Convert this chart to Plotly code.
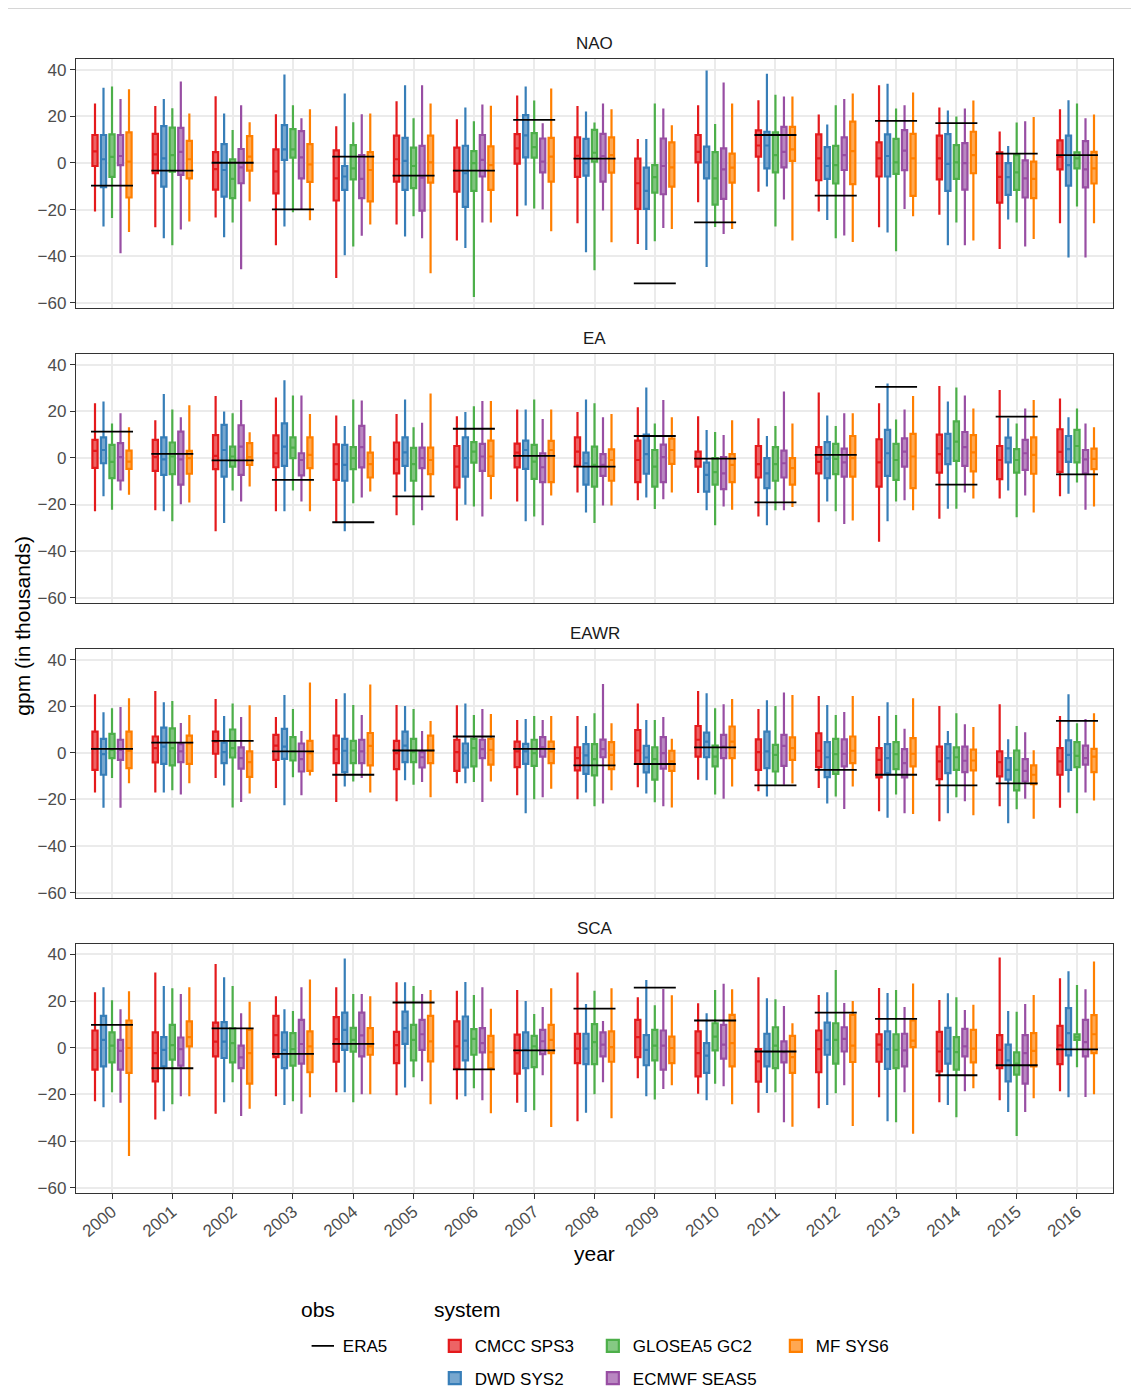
import plotly.graph_objects as go
from plotly.subplots import make_subplots

years = list(range(2000, 2017))
facets = ["NAO", "EA", "EAWR", "SCA"]
systems = ["CMCC SPS3", "DWD SYS2", "GLOSEA5 GC2", "ECMWF SEAS5", "MF SYS6"]
colors = ["#E41A1C", "#377EB8", "#4DAF4A", "#984EA3", "#FF7F00"]
fills = ["rgba(228,26,28,0.68)", "rgba(55,126,184,0.68)", "rgba(77,175,74,0.68)",
         "rgba(152,78,163,0.68)", "rgba(255,127,0,0.68)"]

# each entry: (lower whisker, q1, median, q3, upper whisker), one per year 2000..2016
NAO_CMCC = [(-20.8,-1.3,5.0,12.0,25.5),(-27.6,-4.4,3.7,12.5,24.4),(-23.4,-11.4,-2.6,4.7,28.6),(-35.3,-13.0,-3.6,5.8,20.9),(-49.3,-16.1,-6.6,5.4,15.8),(-26.4,-8.0,1.6,11.7,26.5),(-33.2,-12.3,-3.4,6.6,18.8),(-22.9,-0.3,6.3,12.4,28.9),(-25.9,-6.0,3.1,11.0,24.4),(-34.8,-19.7,-8.7,1.9,10.3),(-16.8,0.3,4.8,12.0,24.8),(-12.3,2.7,7.5,14.0,26.9),(-20.8,-7.4,2.0,12.3,20.8),(-27.6,-5.8,2.0,8.8,33.3),(-22.2,-7.0,2.0,11.7,23.8),(-36.9,-17.0,-6.0,4.6,13.5),(-25.9,-2.7,2.7,9.7,23.1)]
NAO_DWD = [(-27.2,-10.4,1.6,12.0,32.3),(-32.3,-10.1,2.0,15.8,27.4),(-31.9,-14.4,-3.0,8.1,21.2),(-27.2,1.3,5.8,16.2,38.0),(-39.6,-11.5,-5.8,-1.3,29.8),(-31.5,-11.5,0.9,10.8,33.3),(-36.5,-18.8,-4.4,7.4,23.8),(-18.2,2.4,11.8,20.5,32.8),(-38.3,-5.4,-0.1,10.3,22.1),(-37.3,-19.7,-12.0,-2.0,10.3),(-44.6,-6.6,0.3,7.0,39.7),(-10.1,-2.3,7.5,13.4,38.3),(-24.5,-6.8,-1.3,6.8,16.5),(-29.8,-5.8,3.0,12.3,34.0),(-35.3,-12.0,-0.4,12.4,22.5),(-24.2,-13.7,-6.1,-0.1,7.3),(-40.5,-9.7,-0.9,11.7,26.9)]
NAO_GLOSEA = [(-23.6,-6.0,2.6,12.3,32.8),(-35.3,-3.7,3.4,15.2,23.5),(-25.5,-15.1,-6.8,1.6,14.1),(-21.1,2.3,5.8,14.5,24.8),(-35.8,-7.0,-2.3,7.7,17.5),(-22.9,-10.8,-1.3,6.6,19.2),(-57.5,-12.0,-0.1,5.1,17.9),(-19.5,2.3,6.8,12.8,26.8),(-46.0,0.6,4.4,14.2,17.4),(-33.6,-12.7,-6.1,-0.9,25.5),(-27.5,-17.9,-6.6,4.7,16.7),(-27.2,-4.0,3.4,13.1,29.3),(-32.3,-8.8,-0.9,7.3,24.8),(-37.9,-4.7,0.3,10.3,23.4),(-25.5,-6.8,0.3,7.7,19.9),(-25.5,-11.5,-4.0,3.4,17.4),(-18.7,-2.3,2.0,4.6,25.5)]
NAO_ECMWF = [(-38.7,-0.9,3.0,12.0,27.4),(-28.5,-5.1,4.8,15.1,35.0),(-45.6,-8.7,-1.9,6.0,24.8),(-19.7,-6.6,2.4,13.7,19.2),(-31.2,-15.1,-6.8,3.4,20.9),(-32.3,-20.4,-6.3,7.3,33.3),(-25.5,-5.8,1.3,12.0,25.1),(-19.9,-4.0,0.6,10.5,17.0),(-20.4,-8.0,3.0,12.5,25.5),(-27.9,-13.4,-1.3,10.5,23.4),(-30.5,-15.4,-2.7,6.3,34.5),(-15.7,-1.9,4.8,15.5,28.5),(-31.1,-3.0,3.4,11.0,27.4),(-19.7,-3.1,5.3,14.1,24.8),(-35.3,-11.4,-0.1,8.5,23.4),(-35.8,-14.8,-6.6,1.1,17.9),(-40.5,-10.5,-2.7,9.4,19.2)]
NAO_MF = [(-29.6,-14.8,0.6,13.1,31.6),(-25.1,-6.6,1.6,9.5,21.2),(-16.5,-3.3,2.7,11.5,17.5),(-24.6,-8.1,-0.6,8.1,23.1),(-26.4,-16.5,-3.0,4.7,21.2),(-47.3,-8.4,0.3,11.7,25.5),(-25.5,-11.5,-0.9,7.1,24.6),(-29.3,-8.0,2.7,10.8,31.9),(-34.0,-4.1,3.4,11.0,23.1),(-28.3,-10.1,-1.9,8.8,16.2),(-28.3,-8.4,-2.0,4.0,25.5),(-33.2,0.9,5.8,15.5,28.5),(-33.9,-9.1,5.1,17.7,29.8),(-22.9,-14.1,2.0,12.5,30.2),(-33.2,-4.4,3.4,13.4,26.8),(-32.6,-15.1,-6.8,0.6,19.7),(-25.9,-8.8,-2.3,4.8,20.8)]
NAO_ERA5 = [-9.7,-3.3,0.1,-19.9,2.7,-5.4,-3.3,18.5,1.9,-51.6,-25.5,12.0,-14.0,18.1,17.1,4.0,3.4]

EA_CMCC = [(-22.9,-4.3,3.0,7.7,23.4),(-22.5,-5.6,0.3,7.7,16.2),(-31.5,-4.8,0.9,9.8,26.5),(-22.9,-4.0,2.0,9.7,25.9),(-27.6,-9.4,-2.7,5.8,18.2),(-24.6,-6.6,-0.6,6.6,18.8),(-26.8,-12.7,-3.7,5.1,17.9),(-18.7,-4.1,2.3,6.1,20.8),(-14.8,-3.3,2.7,8.8,19.7),(-18.2,-10.4,-0.9,7.4,21.7),(-15.1,-3.7,-0.3,2.7,17.9),(-25.1,-8.4,-2.7,5.1,17.0),(-27.6,-6.6,-1.7,4.6,28.1),(-36.0,-12.3,-1.9,8.0,23.4),(-26.1,-6.3,1.6,10.0,30.8),(-17.4,-9.1,-0.9,5.1,29.1),(-16.5,-6.0,2.6,12.3,25.5)]
EA_DWD = [(-16.5,-2.3,3.4,8.8,24.2),(-22.9,-7.3,-0.6,8.8,27.4),(-27.9,-8.0,3.4,14.2,19.9),(-22.9,-3.4,4.8,14.8,33.3),(-31.5,-9.8,-3.0,5.6,13.7),(-14.4,-3.4,2.4,8.8,25.1),(-20.1,-8.0,-0.1,8.8,19.7),(-27.2,-4.7,3.4,7.4,20.8),(-23.4,-11.5,-2.3,2.3,25.1),(-17.0,-6.8,1.6,10.0,30.2),(-22.5,-14.5,-7.3,-2.0,12.0),(-28.9,-13.0,-6.6,-0.1,9.4),(-18.7,-8.7,-0.3,6.8,18.2),(-27.2,-7.7,2.0,12.0,31.9),(-21.8,-2.7,4.1,10.3,24.2),(-14.0,-1.9,4.1,8.7,17.0),(-15.4,-1.7,3.8,9.4,17.4)]
EA_GLOSEA = [(-22.2,-8.7,-1.7,5.6,14.8),(-27.2,-7.0,0.6,6.6,20.8),(-14.0,-3.7,0.6,4.8,19.1),(-14.0,-0.1,4.4,8.8,26.8),(-19.5,-4.8,-0.1,4.6,25.1),(-28.9,-9.8,-2.7,4.3,13.1),(-20.8,-2.0,2.7,6.8,22.2),(-25.1,-9.0,-1.6,5.6,25.1),(-27.9,-12.3,-3.0,4.8,23.4),(-21.9,-12.3,-3.7,3.4,14.8),(-28.9,-11.5,-6.1,-0.1,11.1),(-22.5,-9.8,-2.7,4.6,13.7),(-22.9,-7.0,-0.4,6.0,13.7),(-18.7,-9.4,-0.9,6.0,16.5),(-21.8,-1.3,7.0,15.7,30.2),(-25.5,-6.3,-0.9,3.8,14.8),(-10.5,-1.9,5.1,12.0,21.2)]
EA_ECMWF = [(-14.0,-9.7,0.3,6.3,19.1),(-19.9,-11.5,-0.6,11.3,17.4),(-18.7,-7.3,4.8,14.0,24.8),(-18.7,-7.5,-0.9,2.0,26.8),(-17.0,-4.1,4.6,13.7,24.6),(-22.5,-4.4,-0.1,4.4,15.1),(-25.1,-5.6,0.6,6.0,24.4),(-28.9,-10.4,-4.0,2.0,16.7),(-20.4,-7.7,-3.0,1.6,17.4),(-17.7,-10.4,0.3,5.7,24.8),(-20.8,-13.4,-6.6,0.3,9.8),(-22.5,-8.4,-2.3,3.1,28.5),(-28.3,-8.0,-1.9,4.0,19.1),(-18.2,-3.7,2.7,8.4,20.8),(-14.8,-3.4,4.6,11.1,26.8),(-16.1,-5.1,2.0,7.7,21.2),(-22.2,-6.6,-0.6,3.4,14.8)]
EA_MF = [(-15.8,-4.7,-1.6,3.1,13.1),(-19.1,-6.8,-0.1,3.0,22.6),(-12.3,-3.0,0.3,6.3,11.0),(-22.9,-4.4,1.3,8.8,18.8),(-14.4,-8.4,-2.7,2.3,9.4),(-16.5,-7.0,-0.9,4.4,27.6),(-17.7,-7.7,0.6,7.4,24.4),(-16.1,-10.4,3.4,7.3,20.8),(-20.4,-9.8,-0.9,3.7,18.8),(-14.8,-2.6,3.4,8.3,17.4),(-22.2,-10.4,-3.0,1.6,16.2),(-21.1,-11.5,-4.4,-0.1,14.8),(-26.8,-8.0,-0.1,9.4,19.1),(-22.5,-13.0,0.6,10.3,26.5),(-17.4,-5.8,2.4,9.8,21.2),(-23.4,-6.8,1.3,8.8,24.8),(-20.8,-4.8,-0.4,4.0,13.1)]
EA_ERA5 = [11.3,1.7,-1.1,-9.4,-27.6,-16.5,12.5,0.9,-3.7,9.4,-0.3,-19.1,1.3,30.5,-11.5,17.7,-7.1]

EAWR_CMCC = [(-17.0,-7.3,1.7,9.1,25.1),(-17.0,-4.1,2.0,7.0,26.5),(-10.8,-0.4,4.8,9.1,23.1),(-15.1,-3.0,3.1,7.7,15.4),(-21.1,-4.4,1.6,7.4,23.1),(-20.8,-7.0,-0.1,5.1,20.5),(-13.1,-7.7,0.3,5.6,20.4),(-18.2,-6.1,0.6,4.8,14.1),(-19.9,-7.5,-2.3,2.4,15.8),(-14.8,-4.8,1.0,9.8,21.2),(-11.5,-1.6,5.6,11.5,26.5),(-16.5,-7.3,0.3,5.8,18.8),(-15.1,-6.1,0.9,8.4,24.4),(-25.1,-10.5,-3.0,2.0,15.8),(-29.3,-11.3,-3.7,2.7,20.1),(-22.9,-10.1,-4.0,0.6,20.8),(-23.6,-9.4,-3.7,2.0,15.8)]
EAWR_DWD = [(-23.6,-9.4,-0.6,6.0,17.4),(-17.0,-4.7,2.7,10.8,21.7),(-14.0,-4.4,0.3,4.4,15.8),(-22.5,-2.6,2.7,10.3,24.8),(-14.4,-8.3,0.9,6.0,25.5),(-11.8,-4.0,3.1,9.1,20.1),(-13.1,-6.3,-0.1,4.0,21.2),(-25.9,-4.7,0.6,3.8,14.5),(-17.0,-9.0,-1.1,3.7,11.5),(-17.4,-8.4,-2.0,3.0,14.1),(-11.8,-1.9,4.8,8.7,25.5),(-18.7,-6.6,0.6,9.1,22.6),(-21.7,-10.4,-1.9,4.6,20.5),(-27.9,-8.7,-2.3,3.7,21.7),(-25.9,-8.7,-2.3,3.7,9.4),(-30.2,-11.5,-7.3,-2.3,5.8),(-17.0,-7.3,-0.9,5.3,25.1)]
EAWR_GLOSEA = [(-10.8,-2.3,1.3,8.1,19.1),(-16.1,-5.4,2.0,10.5,22.2),(-23.4,-2.0,2.0,10.0,21.2),(-10.5,-3.3,0.6,6.7,18.8),(-12.3,-4.4,1.0,5.1,20.5),(-13.7,-4.0,0.3,6.0,18.8),(-12.5,-5.8,2.0,6.0,16.2),(-19.9,-5.6,-0.1,5.6,15.8),(-22.9,-9.7,-2.7,3.7,17.0),(-21.2,-11.5,-2.7,2.4,14.1),(-17.9,-5.8,-1.6,3.1,19.1),(-13.7,-8.0,-0.9,3.4,20.1),(-18.7,-9.0,-0.6,6.0,16.2),(-17.9,-7.0,-0.6,4.6,16.2),(-19.1,-7.3,-1.9,2.3,17.0),(-24.2,-16.1,-7.3,1.0,11.5),(-25.9,-6.1,-1.3,4.6,12.7)]
EAWR_ECMWF = [(-23.6,-3.0,1.3,5.6,19.7),(-17.9,-4.0,0.6,3.7,12.8),(-21.1,-6.8,-2.3,2.3,15.4),(-18.2,-8.0,-2.7,4.0,9.4),(-10.8,-4.4,0.6,5.6,16.2),(-12.5,-6.3,-1.9,0.3,9.4),(-21.1,-2.3,1.6,5.6,18.8),(-19.1,-1.6,2.3,6.7,14.1),(-21.7,-1.9,1.6,5.7,29.5),(-22.9,-6.8,-0.1,6.7,15.4),(-19.7,-2.3,2.7,7.7,20.8),(-13.7,-5.6,3.0,7.7,25.9),(-24.1,-5.8,-0.4,5.8,17.5),(-25.9,-10.5,-4.4,1.6,10.3),(-20.8,-8.3,-3.4,2.7,12.3),(-19.7,-12.3,-7.7,-2.7,8.8),(-17.0,-5.1,-2.3,3.1,14.5)]
EAWR_MF = [(-13.0,-6.6,0.9,9.1,23.4),(-13.0,-4.7,4.0,7.4,16.2),(-17.4,-10.3,-4.0,0.6,20.4),(-9.7,-7.7,-0.1,5.1,30.2),(-17.0,-5.4,3.0,8.5,29.3),(-19.1,-4.4,0.9,7.4,13.7),(-12.3,-5.1,1.3,6.0,16.7),(-15.4,-4.4,0.6,4.8,15.8),(-16.1,-7.0,-0.9,4.6,12.7),(-23.4,-7.7,-3.7,0.9,6.0),(-14.4,-2.3,4.8,11.3,23.1),(-13.2,-3.0,2.0,6.6,24.8),(-14.4,-4.4,0.9,7.0,24.4),(-26.2,-5.8,-0.4,6.3,23.4),(-26.8,-7.5,-3.3,1.4,11.1),(-28.3,-13.4,-9.4,-5.4,1.1),(-20.4,-8.3,-1.6,1.7,17.0)]
EAWR_ERA5 = [1.7,4.4,5.1,0.6,-9.4,1.0,7.0,1.7,-5.4,-4.8,2.3,-14.0,-7.3,-9.4,-14.0,-13.1,13.7]

SCA_CMCC = [(-22.9,-9.4,-0.9,7.4,23.8),(-30.8,-14.4,-2.3,6.6,32.3),(-28.3,-3.7,2.6,10.8,35.9),(-20.8,-4.0,5.4,13.7,22.1),(-19.1,-6.0,3.7,13.1,25.9),(-20.4,-6.6,1.1,6.8,28.1),(-22.2,-9.1,0.6,11.3,24.4),(-23.6,-11.1,-2.3,5.6,24.8),(-31.5,-6.6,-0.4,6.0,32.3),(-13.1,-4.0,4.6,12.0,21.7),(-19.7,-12.3,-2.3,7.0,19.1),(-27.9,-14.5,-5.8,-0.6,30.2),(-25.9,-10.5,-0.6,7.4,22.6),(-21.2,-6.0,1.3,5.8,25.6),(-23.4,-10.1,-1.6,6.8,20.5),(-22.5,-8.8,-0.9,5.4,38.7),(-18.7,-7.0,1.0,9.4,29.8)]
SCA_DWD = [(-25.5,-8.0,3.4,13.7,25.9),(-27.2,-8.0,-0.9,4.6,26.5),(-23.4,-4.4,2.6,11.0,30.2),(-24.6,-8.7,-0.9,6.6,16.5),(-19.1,-0.9,7.7,15.1,38.3),(-17.0,1.7,8.4,15.5,28.1),(-20.8,-5.4,3.1,13.4,28.2),(-27.6,-8.7,-0.9,6.6,20.1),(-27.9,-7.0,-0.4,6.0,18.8),(-20.8,-7.5,-0.9,5.4,29.1),(-22.5,-10.8,-3.4,2.0,14.8),(-19.4,-8.0,-1.7,6.0,21.2),(-24.6,-3.0,3.4,10.8,23.8),(-31.5,-9.1,-0.6,7.0,23.5),(-24.6,-6.8,-0.4,8.5,23.4),(-27.6,-14.4,-5.4,1.3,15.8),(-21.2,-3.3,6.3,17.0,32.8)]
SCA_GLOSEA = [(-19.1,-6.3,0.9,6.6,20.4),(-24.2,-5.1,1.1,9.8,25.5),(-14.8,-6.3,2.0,8.3,26.5),(-22.9,-7.7,-0.6,6.3,15.8),(-23.4,-1.7,3.4,8.5,23.1),(-12.7,-5.4,3.4,9.8,26.5),(-17.4,-3.0,3.8,8.0,22.6),(-26.8,-8.3,0.6,5.1,14.5),(-19.9,-7.0,2.4,10.1,24.4),(-22.2,-5.4,0.9,7.7,18.2),(-15.4,-1.1,4.8,10.5,24.8),(-19.1,-8.7,0.9,8.8,20.8),(-19.5,-6.8,3.4,10.5,33.3),(-31.9,-8.7,-0.9,5.8,24.8),(-29.8,-9.4,-1.9,4.6,21.7),(-37.9,-11.5,-6.8,-2.0,15.4),(-8.4,3.4,4.6,5.8,26.9)]
SCA_ECMWF = [(-23.6,-9.4,-1.3,3.4,16.5),(-20.8,-7.7,-0.6,4.4,23.1),(-29.3,-8.7,-4.1,0.9,14.8),(-28.3,-6.8,1.6,12.0,25.9),(-19.9,-3.7,5.3,15.1,23.1),(-14.4,-0.9,5.8,12.0,23.1),(-22.5,-2.0,2.0,8.4,25.9),(-11.8,-2.7,2.8,7.7,17.5),(-14.8,-3.7,1.3,6.6,11.5),(-17.7,-9.4,0.9,7.4,25.2),(-16.5,-4.7,1.3,9.8,27.4),(-31.9,-6.3,-1.9,2.7,17.9),(-16.1,-1.6,3.8,8.8,19.2),(-19.1,-8.0,-1.1,6.0,17.5),(-18.7,-3.7,0.6,8.1,16.2),(-27.6,-15.4,-2.3,5.4,18.8),(-21.1,-3.7,2.4,12.0,25.1)]
SCA_MF = [(-46.4,-10.8,-0.1,11.7,24.2),(-20.8,0.6,4.6,11.3,25.9),(-26.2,-15.4,-2.3,7.7,19.7),(-21.2,-10.5,0.6,7.0,29.3),(-19.9,-3.0,0.6,8.4,22.1),(-24.2,-5.8,2.7,13.7,24.8),(-28.1,-8.7,-1.9,5.1,16.7),(-34.0,-2.3,3.4,9.8,25.5),(-30.2,-6.0,0.3,7.0,25.5),(-16.1,-6.6,-0.1,4.8,22.5),(-24.2,-8.0,2.0,14.1,25.1),(-33.9,-10.8,-4.0,5.1,10.5),(-33.6,-6.1,0.9,14.1,20.1),(-36.9,0.3,3.1,11.7,27.6),(-17.4,-6.3,-0.4,7.7,18.4),(-21.7,-8.0,-1.3,6.3,22.6),(-19.9,-2.3,5.8,14.0,37.0)]
SCA_ERA5 = [9.8,-8.8,8.3,-2.6,1.7,19.4,-9.3,-1.1,16.8,25.8,11.7,-1.6,15.1,12.4,-11.8,-7.5,-0.7]

ENSEMBLES = {
    "NAO": [NAO_CMCC, NAO_DWD, NAO_GLOSEA, NAO_ECMWF, NAO_MF],
    "EA": [EA_CMCC, EA_DWD, EA_GLOSEA, EA_ECMWF, EA_MF],
    "EAWR": [EAWR_CMCC, EAWR_DWD, EAWR_GLOSEA, EAWR_ECMWF, EAWR_MF],
    "SCA": [SCA_CMCC, SCA_DWD, SCA_GLOSEA, SCA_ECMWF, SCA_MF],
}
OBS = {"NAO": NAO_ERA5, "EA": EA_ERA5, "EAWR": EAWR_ERA5, "SCA": SCA_ERA5}

# ---- styling / layout ----
FONT = "Liberation Sans, Arial, sans-serif"
DODGE = [-0.282, -0.141, 0.0, 0.141, 0.282]
BOXW = 0.086
SYS_LEGEND = ["legend2", "legend2", "legend3", "legend3", "legend4"]
YR = [-62.3, 44.6]
XR = [1999.403, 2016.597]

fig = make_subplots(rows=4, cols=1, vertical_spacing=45.7 / 1134.3)

for r, fac in enumerate(facets, start=1):
    for k, sysname in enumerate(systems):
        stats = ENSEMBLES[fac][k]
        fig.add_trace(go.Box(
            x=[yr + DODGE[k] for yr in years],
            lowerfence=[s[0] for s in stats],
            q1=[s[1] for s in stats],
            median=[s[2] for s in stats],
            q3=[s[3] for s in stats],
            upperfence=[s[4] for s in stats],
            name=sysname, legendgroup=sysname, showlegend=(r == 1),
            legend=SYS_LEGEND[k],
            line=dict(color=colors[k], width=2.2),
            fillcolor=fills[k], marker=dict(color=colors[k]),
            width=BOXW, whiskerwidth=0, boxpoints=False, hoverinfo="skip",
        ), row=r, col=1)
    fig.add_trace(go.Scatter(
        x=years, y=OBS[fac], mode="markers", name="ERA5", legendgroup="ERA5",
        showlegend=(r == 1), legend="legend",
        marker=dict(symbol="line-ew", size=30, color="black",
                    line=dict(color="black", width=1.8)),
        hoverinfo="skip",
    ), row=r, col=1)

axis_common = dict(showgrid=True, gridcolor="#EBEBEB", gridwidth=1.8, zeroline=False,
                   showline=True, mirror=True, linecolor="#333333", linewidth=1.3,
                   tickfont=dict(family=FONT, size=17, color="#4D4D4D"))
for r in range(1, 5):
    fig.update_xaxes(range=XR, tickvals=years, ticktext=[str(y) for y in years],
                     showticklabels=(r == 4), ticks=("outside" if r == 4 else ""),
                     ticklen=5, tickwidth=1.1, tickcolor="#333333", tickangle=-40,
                     ticklabelstandoff=-4,
                     row=r, col=1, **axis_common)
    fig.update_yaxes(range=YR, tickvals=[-60, -40, -20, 0, 20, 40],
                     ticks="outside", ticklen=5, tickwidth=1.1, tickcolor="#333333",
                     row=r, col=1, **axis_common)

annotations = []
for r, fac in enumerate(facets, start=1):
    ya = fig.layout["yaxis" + ("" if r == 1 else str(r))]
    annotations.append(dict(text=fac, x=0.5, y=ya.domain[1], xref="paper", yref="paper",
                            xanchor="center", yanchor="bottom", yshift=4, showarrow=False,
                            font=dict(family=FONT, size=17, color="#1A1A1A")))
annotations += [
    dict(text="year", x=0.5, y=-0.0535, xref="paper", yref="paper", xanchor="center",
         yanchor="middle", showarrow=False, font=dict(family=FONT, size=21, color="black")),
    dict(text="gpm (in thousands)", x=-0.0524, y=0.5, xref="paper", yref="paper",
         xanchor="center", yanchor="middle", textangle=-90, showarrow=False,
         font=dict(family=FONT, size=21, color="black")),
    dict(text="obs", x=0.2148, y=-0.1029, xref="paper", yref="paper", xanchor="left",
         yanchor="middle", showarrow=False, font=dict(family=FONT, size=21, color="black")),
    dict(text="system", x=0.3431, y=-0.1029, xref="paper", yref="paper", xanchor="left",
         yanchor="middle", showarrow=False, font=dict(family=FONT, size=21, color="black")),
]

leg_common = dict(orientation="v", yanchor="top", y=-0.1193, xanchor="left",
                  bgcolor="rgba(0,0,0,0)", tracegroupgap=7.25,
                  font=dict(family=FONT, size=17, color="black"))
fig.update_layout(
    width=1131, height=1383,
    margin=dict(l=68, r=26, t=51, b=198, autoexpand=False),
    paper_bgcolor="white", plot_bgcolor="white",
    boxmode="overlay",
    font=dict(family=FONT, size=17, color="black"),
    annotations=annotations,
    legend=dict(x=0.2187, **leg_common),
    legend2=dict(x=0.3460, **leg_common),
    legend3=dict(x=0.4984, **leg_common),
    legend4=dict(x=0.6749, **leg_common),
    shapes=[
        dict(type="line", xref="paper", yref="paper", x0=-0.0736, x1=1.0235,
             y0=1.0447, y1=1.0447, line=dict(color="#CCCCCC", width=1)),
        dict(type="line", xref="paper", yref="paper", x0=1.0235, x1=1.0235,
             y0=1.0447, y1=-0.175, line=dict(color="#CCCCCC", width=1)),
    ],
)

fig.write_html("out.html")
